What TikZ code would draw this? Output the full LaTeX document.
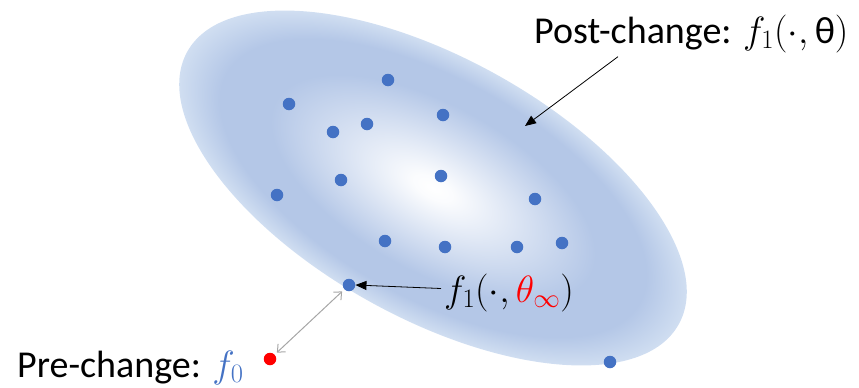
\RequirePackage{fix-cm}
\documentclass[tikz,border=0pt]{standalone}
\usepackage{fontspec}
\setmainfont{Carlito}
\usetikzlibrary{arrows.meta,calc}
\definecolor{ringblue}{RGB}{180,199,231}
\definecolor{edgeblue}{RGB}{208,222,241}
\definecolor{dotblue}{RGB}{68,114,196}
\definecolor{linkgray}{RGB}{166,166,166}
\pgfdeclareradialshading{ellshade}{\pgfpoint{0bp}{0bp}}{color(0bp)=(white); color(2bp)=(white!94!ringblue); color(16bp)=(ringblue); color(21bp)=(ringblue); color(25bp)=(edgeblue); color(50bp)=(edgeblue)}
\begin{document}
\begin{tikzpicture}[x=1pt,y=-1pt,
  dot/.style={circle,fill=dotblue,inner sep=0pt,minimum size=12.5pt},
  reddot/.style={circle,fill=red,inner sep=0pt,minimum size=12.5pt},
  lbl/.style={font=\fontsize{38}{45}\selectfont,inner sep=0pt,anchor=base west},
  blackarrow/.style={-{Triangle[length=11pt,width=9pt]},line width=0.8pt,black},
  grayarrow/.style={{Straight Barb[length=6pt,width=11pt]}-{Straight Barb[length=6pt,width=11pt]},line width=1pt,linkgray,shorten <=3pt,shorten >=3pt}]
\useasboundingbox (0,0) rectangle (859,388);
\shade[shading=ellshade,transform canvas={rotate around={-29:(433,188)}}] (433,188) ellipse [x radius=281pt,y radius=130pt];
\node[dot] (d1) at (388,80) {};
\node[dot] (d2) at (289,104) {};
\node[dot] (d3) at (443,115) {};
\node[dot] (d4) at (333,132) {};
\node[dot] (d5) at (367,124) {};
\node[dot] (d6) at (341,180) {};
\node[dot] (d7) at (441,176) {};
\node[dot] (d8) at (277,195) {};
\node[dot] (d9) at (535,199) {};
\node[dot] (d10) at (385,241) {};
\node[dot] (d11) at (445,247) {};
\node[dot] (d12) at (517,247) {};
\node[dot] (d13) at (562,243) {};
\node[dot] (d14) at (349,285) {};
\node[dot] (d15) at (610,362) {};
\node[reddot] (r) at (270,359) {};
\node[lbl] (post) at (534,43) {Post-change: $f_1(\cdot,\mbox{θ})$};
\node[lbl] (pre) at (17,377) {Pre-change: ${\color{dotblue}f_0}$};
\node[lbl] (finf) at (444,302) {$f_1(\cdot,{\color{red}\theta_\infty})$};
\coordinate (poststart) at ($(post.south west)+(84,4)$);
\coordinate (postend) at (525,126);
\draw[blackarrow] (poststart) -- (postend);
\draw[blackarrow] ($(finf.west)+(-3,-4)$) -- (d14.east);
\draw[grayarrow] (d14) -- (r);
\end{tikzpicture}
\end{document}
